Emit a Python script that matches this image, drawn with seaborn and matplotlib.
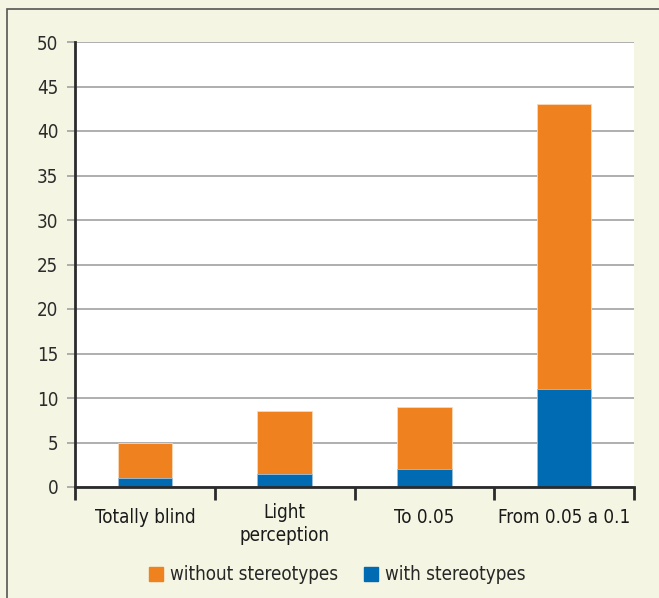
import pandas as pd
import matplotlib.pyplot as plt
import matplotlib.patches as mpatches
import matplotlib.transforms as mtransforms
from matplotlib import font_manager
import seaborn as sns

# data
categories = ['Totally blind', 'Light\nperception', 'To 0.05', 'From 0.05 a 0.1']
with_stereo = [1, 1.5, 2, 11]
without_stereo = [4, 7, 7, 32]

orange = '#EF821E'
blue = '#006AB3'
cream = '#F4F5E2'

data = pd.DataFrame({'cat': categories, 'with': with_stereo, 'without': without_stereo})
data['total'] = data['with'] + data['without']

sns.set_style('white')

# pick a narrow font if one is installed
fonts = font_manager.fontManager.ttflist
narrow = [f for f in fonts if f.name == 'Liberation Sans Narrow']
dv_cond = [f for f in fonts if f.name == 'DejaVu Sans' and f.stretch in ('condensed', 'semi-condensed', 600, 500)]
if narrow:
    plt.rcParams['font.family'] = ['Liberation Sans Narrow', 'DejaVu Sans']
    fs = 15
elif dv_cond:
    plt.rcParams['font.family'] = ['DejaVu Sans']
    plt.rcParams['font.stretch'] = 'condensed'
    fs = 13.5
else:
    plt.rcParams['font.family'] = ['Roboto', 'DejaVu Sans']
    fs = 13.5

fig = plt.figure(figsize=(6.59, 5.98), dpi=100, facecolor=cream)
ax = fig.add_axes([75 / 659, 1 - 487 / 598, (634 - 75) / 659, (487 - 42) / 598])
ax.set_facecolor('white')

# frame round the whole figure
fig.patches.append(mpatches.Rectangle((7 / 659, -0.01), 1, 1 - 9 / 598 + 0.01,
                                      transform=fig.transFigure, fill=False,
                                      edgecolor='#555555', linewidth=1.2))

# stacked bars: total in orange, blue part drawn over it
sns.barplot(x='cat', y='total', data=data, ax=ax, color=orange, width=0.39,
            edgecolor='#FBD9B5', linewidth=0.6, saturation=1)
sns.barplot(x='cat', y='with', data=data, ax=ax, color=blue, width=0.39,
            edgecolor='#9CC3E0', linewidth=0.6, saturation=1)

ax.set_ylim(0, 50)
ax.set_xlim(-0.5, 3.5)
ax.set_yticks(range(0, 51, 5))
ax.yaxis.grid(True, color='#999999', linewidth=1.1)
ax.set_axisbelow(True)
ax.set_xlabel('')
ax.set_ylabel('')

for s in ['top', 'right']:
    ax.spines[s].set_visible(False)
ax.spines['left'].set_color('#2B2B2B')
ax.spines['left'].set_linewidth(2)
ax.spines['bottom'].set_color('#2B2B2B')
ax.spines['bottom'].set_linewidth(2)

ax.tick_params(axis='y', length=6, color='#999999', width=1.1, labelsize=fs,
               labelcolor='#2B2B2B', pad=6, left=True)
ax.tick_params(axis='x', which='major', length=0, labelsize=fs,
               labelcolor='#1A1A1A', pad=15)
ax.set_xticks([-0.5, 0.5, 1.5, 2.5, 3.5], minor=True)
ax.tick_params(axis='x', which='minor', length=9, width=2, color='#2B2B2B',
               bottom=True)

# two-line label sits a little higher in the original
for lab in ax.get_xticklabels():
    lab.set_linespacing(1.3)
    if '\n' in lab.get_text():
        lab.set_transform(lab.get_transform() +
                          mtransforms.ScaledTranslation(0, 5 / 100, fig.dpi_scale_trans))

handles = [mpatches.Patch(color=orange, label='without stereotypes'),
           mpatches.Patch(color=blue, label='with stereotypes')]
fig.legend(handles=handles, loc='center', bbox_to_anchor=(0.512, 1 - 575 / 598),
           ncol=2, frameon=False, fontsize=fs, handlelength=0.75,
           handleheight=0.75, handletextpad=0.35, columnspacing=1.4)

fig.savefig('out.png', dpi=100, facecolor=cream)
